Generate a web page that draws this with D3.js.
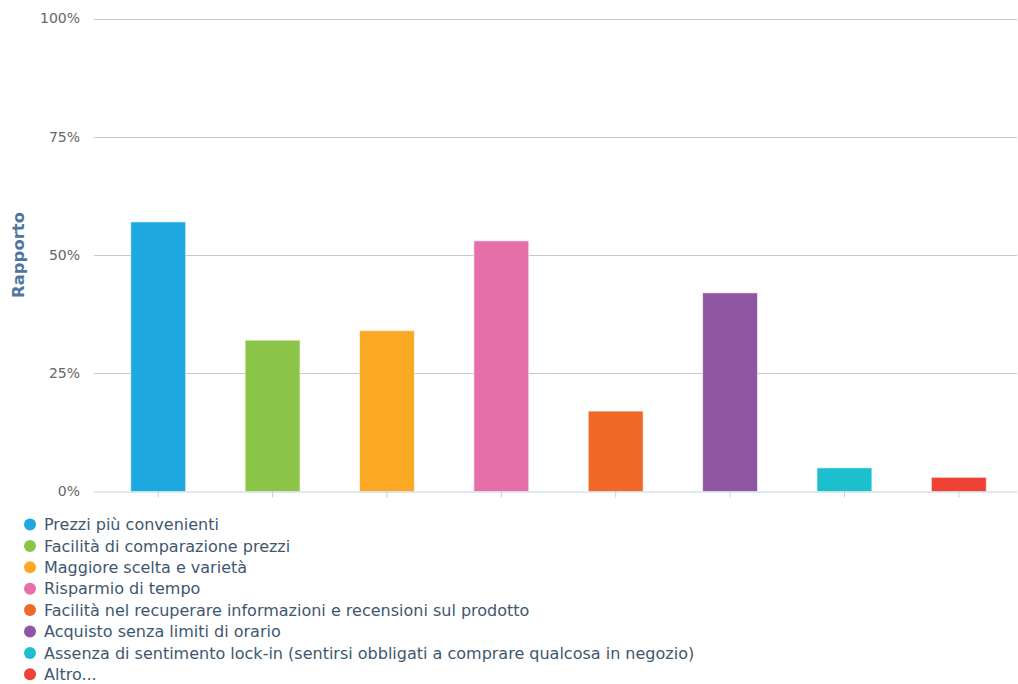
<!DOCTYPE html>
<html>
<head>
<meta charset="utf-8">
<script src="https://cdn.jsdelivr.net/npm/d3@7/dist/d3.min.js"></script>
<style>
  html, body { margin: 0; padding: 0; background: #fff; }
  svg { display: block; font-family: "DejaVu Sans", sans-serif; }
</style>
</head>
<body>
<svg id="chart" width="1018" height="684"></svg>
<script>
// Reasons for shopping online (share of respondents, %)
const categories = [
  "Prezzi più convenienti",
  "Facilità di comparazione prezzi",
  "Maggiore scelta e varietà",
  "Risparmio di tempo",
  "Facilità nel recuperare informazioni e recensioni sul prodotto",
  "Acquisto senza limiti di orario",
  "Assenza di sentimento lock-in (sentirsi obbligati a comprare qualcosa in negozio)",
  "Altro..."
];
const values = [57, 32, 34, 53, 17, 42, 5, 3];
const colors = ["#1ea8e0", "#8bc547", "#fba924", "#e76fa9", "#f06826", "#8f56a1", "#1cbfce", "#ef4136"];
const yTicks = [0, 25, 50, 75, 100];
const yTitle = "Rapporto";

const svg = d3.select("#chart");

const plot = { left: 94, right: 1017, top: 18.5, bottom: 491.5 };

const x = d3.scaleBand()
  .domain(categories)
  .range([101, 1016])
  .paddingInner(0.52)
  .paddingOuter(0.26);

const y = d3.scaleLinear()
  .domain([0, 100])
  .range([plot.bottom, plot.top]);

// Horizontal grid lines
svg.append("g")
  .selectAll("line")
  .data(yTicks.filter(t => t > 0))
  .join("line")
  .attr("x1", plot.left)
  .attr("x2", plot.right)
  .attr("y1", d => Math.round(y(d)) + 0.5)
  .attr("y2", d => Math.round(y(d)) + 0.5)
  .attr("stroke", "#c8c8c8")
  .attr("stroke-width", 1);

// Y axis labels
const yAxis = d3.axisLeft(y)
  .tickValues(yTicks)
  .tickFormat(d => d + "%")
  .tickSize(0)
  .tickPadding(0);
const gy = svg.append("g")
  .attr("transform", "translate(80,0)")
  .call(yAxis);
gy.select(".domain").remove();
gy.selectAll("text")
  .attr("fill", "#666")
  .attr("font-size", 14)
  .attr("font-family", "DejaVu Sans, sans-serif");

// Y axis title
svg.append("text")
  .attr("transform", "translate(18,255) rotate(-90)")
  .attr("text-anchor", "middle")
  .attr("dy", "0.35em")
  .attr("fill", "#4d759e")
  .attr("font-weight", "bold")
  .attr("font-size", 16.5)
  .text(yTitle);

// Bars
svg.append("g")
  .selectAll("rect")
  .data(categories)
  .join("rect")
  .attr("x", d => x(d))
  .attr("width", x.bandwidth())
  .attr("y", (d, i) => y(values[i]))
  .attr("height", (d, i) => y(0) - y(values[i]))
  .attr("fill", (d, i) => colors[i])
  .attr("stroke", "#fff")
  .attr("stroke-opacity", 0.6)
  .attr("stroke-width", 1);

// X axis line and ticks
const xAxis = d3.axisBottom(x).tickSize(6).tickFormat("");
const gx = svg.append("g")
  .attr("transform", `translate(0,${plot.bottom})`)
  .call(xAxis);
gx.select(".domain")
  .attr("d", `M${plot.left},0.5H${plot.right}`)
  .attr("stroke", "#c0d0e0");
gx.selectAll(".tick line").attr("stroke", "#c0d0e0");

// Legend
const legend = svg.append("g")
  .selectAll("g")
  .data(categories)
  .join("g")
  .attr("transform", (d, i) => `translate(0,${524.5 + i * 21.4})`);
legend.append("circle")
  .attr("cx", 30)
  .attr("cy", 0)
  .attr("r", 6)
  .attr("fill", (d, i) => colors[i]);
legend.append("text")
  .attr("x", 44)
  .attr("y", 0)
  .attr("dy", "0.35em")
  .attr("fill", "#3e576f")
  .attr("font-size", 16)
  .text(d => d);
</script>
</body>
</html>
